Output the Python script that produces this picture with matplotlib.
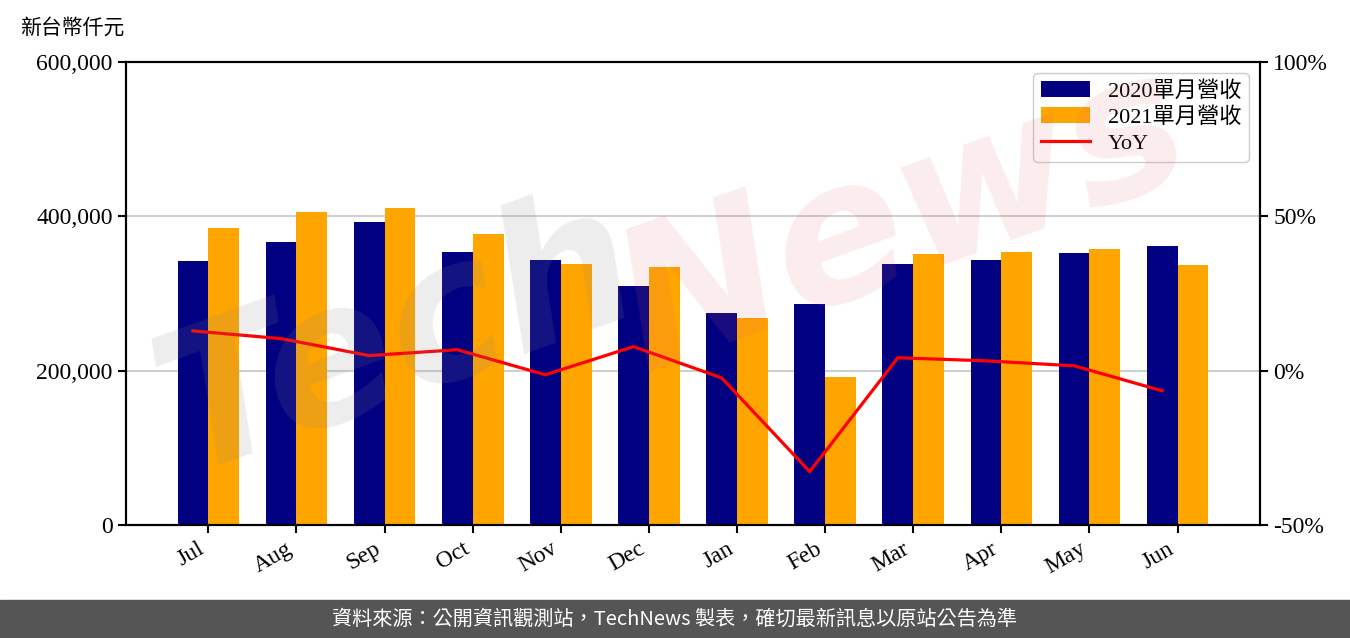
import matplotlib
matplotlib.use("Agg")
import matplotlib.pyplot as plt
import numpy as np
from matplotlib.ticker import FuncFormatter, FixedLocator

plt.rcParams['font.family'] = ['Liberation Serif', 'Noto Sans CJK TC', 'DejaVu Sans']

months = ["Jul", "Aug", "Sep", "Oct", "Nov", "Dec", "Jan", "Feb", "Mar", "Apr", "May", "Jun"]
rev_2020 = [342100, 366700, 392600, 353800, 343400, 309700, 274700, 286400, 338200, 343400, 352500, 361600]
rev_2021 = [384900, 405600, 410800, 377100, 338200, 334300, 268200, 191800, 351200, 353800, 357700, 336900]
yoy = [12.9, 10.4, 4.9, 6.8, -1.3, 7.8, -2.3, -32.7, 4.2, 3.2, 1.6, -6.5]

fig = plt.figure(figsize=(13.5, 6.38), dpi=100)
ax = fig.add_axes([0.0933, 0.177, 0.84, 0.7258])

x = np.arange(len(months))
w = 0.35
ax.bar(x, rev_2020, w, color="#000080", label="2020單月營收", zorder=2)
ax.bar(x + w, rev_2021, w, color="#FFA500", label="2021單月營收", zorder=2)

ax.set_ylim(0, 600000)
ax.yaxis.set_major_locator(FixedLocator([0, 200000, 400000, 600000]))
ax.yaxis.set_major_formatter(FuncFormatter(lambda v, p: f"{int(v):,}"))
ax.set_xticks(x + w / 2)
ax.set_xticklabels(months, rotation=30, ha="right", rotation_mode="default")
ax.grid(axis="y", color="#d0d0d0", linewidth=1.5, zorder=0)
ax.tick_params(labelsize=17, width=1.5, length=6)

ax2 = ax.twinx()
ax2.plot(x, yoy, color="red", linewidth=2.3, label="YoY", zorder=3)
ax2.set_ylim(-50, 100)
ax2.yaxis.set_major_locator(FixedLocator([-50, 0, 50, 100]))
ax2.yaxis.set_major_formatter(FuncFormatter(lambda v, p: f"{int(v)}%"))
ax2.tick_params(labelsize=17, width=1.5, length=6)

for a in (ax, ax2):
    for s in a.spines.values():
        s.set_linewidth(1.5)

h1, l1 = ax.get_legend_handles_labels()
h2, l2 = ax2.get_legend_handles_labels()
ax2.legend(h1 + h2, l1 + l2, loc="upper right", fontsize=16, framealpha=1,
           handlelength=2.2, borderpad=0.35, labelspacing=0.25)

fig.text(0.015, 0.955, "新台幣仟元", fontsize=15, va="center", ha="left")

# 浮水印
fig.text(0.10, 0.26, "Tech", fontsize=140, color="#888888", alpha=0.15,
         rotation=20, fontweight="bold", style="italic", family="DejaVu Sans", zorder=10)
fig.text(0.44, 0.42, "News", fontsize=140, color="#e06070", alpha=0.12,
         rotation=20, fontweight="bold", style="italic", family="DejaVu Sans", zorder=10)

# 底部說明列
fig.patches.append(plt.Rectangle((0, 0), 1, 38 / 638, transform=fig.transFigure,
                                 color="#555555", zorder=0))
fig.text(0.5, 19 / 638, "資料來源：公開資訊觀測站，TechNews 製表，確切最新訊息以原站公告為準",
         color="white", fontsize=14.5, ha="center", va="center",
         family=["Noto Sans CJK TC", "DejaVu Sans"])

fig.savefig("out.png", dpi=100)
